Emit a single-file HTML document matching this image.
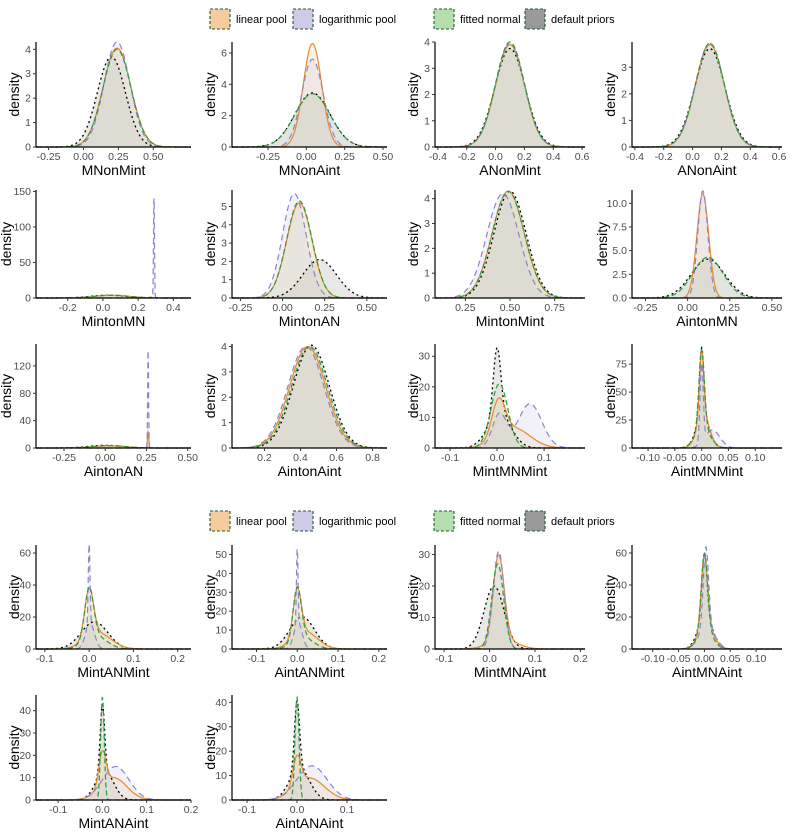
<!DOCTYPE html>
<html><head><meta charset="utf-8">
<style>
body{margin:0;background:#fff;}
svg{display:block;font-family:"Liberation Sans",sans-serif;}
.tick{font-size:10.5px;fill:#4d4d4d;}
.ttl{font-size:14px;fill:#000;}
.leg{font-size:11px;fill:#000;}
</style></head>
<body>
<svg id="c" width="794" height="836" viewBox="0 0 794 836" xmlns="http://www.w3.org/2000/svg"></svg>
<script>
// ---- data ----
const panelNames = ["MNonMint","MNonAint","ANonMint","ANonAint","MintonMN","MintonAN","MintonMint","AintonMN","AintonAN","AintonAint","MintMNMint","AintMNMint","MintANMint","AintANMint","MintMNAint","AintMNAint","MintANAint","AintANAint"];
const xLims = [[-0.34,0.77],[-0.485,0.526],[-0.42,0.62],[-0.42,0.62],[-0.38,0.5],[-0.3,0.62],[0.08,0.92],[-0.33,0.56],[-0.42,0.52],[0.02,0.88],[-0.132,0.187],[-0.13,0.15],[-0.12,0.23],[-0.16,0.22],[-0.12,0.21],[-0.14,0.15],[-0.15,0.2],[-0.13,0.18]];
const xTicks = [[-0.25,0,0.25,0.5],[-0.25,0,0.25,0.5],[-0.4,-0.2,0,0.2,0.4,0.6],[-0.4,-0.2,0,0.2,0.4,0.6],[-0.2,0,0.2,0.4],[-0.25,0,0.25,0.5],[0.25,0.5,0.75],[-0.25,0,0.25,0.5],[-0.25,0,0.25,0.5],[0.2,0.4,0.6,0.8],[-0.1,0,0.1],[-0.1,-0.05,0,0.05,0.1],[-0.1,0,0.1,0.2],[-0.1,0,0.1,0.2],[-0.1,0,0.1,0.2],[-0.1,-0.05,0,0.05,0.1],[-0.1,0,0.1,0.2],[-0.1,0,0.1]];
const xTickLabels = [["-0.25","0.00","0.25","0.50"],["-0.25","0.00","0.25","0.50"],["-0.4","-0.2","0.0","0.2","0.4","0.6"],["-0.4","-0.2","0.0","0.2","0.4","0.6"],["-0.2","0.0","0.2","0.4"],["-0.25","0.00","0.25","0.50"],["0.25","0.50","0.75"],["-0.25","0.00","0.25","0.50"],["-0.25","0.00","0.25","0.50"],["0.2","0.4","0.6","0.8"],["-0.1","0.0","0.1"],["-0.10","-0.05","0.00","0.05","0.10"],["-0.1","0.0","0.1","0.2"],["-0.1","0.0","0.1","0.2"],["-0.1","0.0","0.1","0.2"],["-0.10","-0.05","0.00","0.05","0.10"],["-0.1","0.0","0.1","0.2"],["-0.1","0.0","0.1"]];
const yMax = [4.3,6.7,4.0,3.95,152,5.9,4.35,11.4,152,4.1,34,93,65,55,33,65,47,43];
const yTicks = [[0,1,2,3,4],[0,2,4,6],[0,1,2,3,4],[0,1,2,3],[0,50,100,150],[0,1,2,3,4,5],[0,1,2,3,4],[0,2.5,5,7.5,10],[0,40,80,120],[0,1,2,3,4],[0,10,20,30],[0,25,50,75],[0,20,40,60],[0,10,20,30,40,50],[0,10,20,30],[0,20,40,60],[0,10,20,30,40],[0,10,20,30,40]];
const yTickLabels = [["0","1","2","3","4"],["0","2","4","6"],["0","1","2","3","4"],["0","1","2","3"],["0","50","100","150"],["0","1","2","3","4","5"],["0","1","2","3","4"],["0.0","2.5","5.0","7.5","10.0"],["0","40","80","120"],["0","1","2","3","4"],["0","10","20","30"],["0","25","50","75"],["0","20","40","60"],["0","10","20","30","40","50"],["0","10","20","30"],["0","20","40","60"],["0","10","20","30","40"],["0","10","20","30","40"]];
// series components: [mean, sd, peak]
const defaultPriors = [[[0.2,0.1,3.7]],[[0.04,0.115,3.45]],[[0.1,0.105,3.75]],[[0.12,0.105,3.7]],[[0.03,0.1,3.9]],[[0.22,0.1,2.1]],[[0.5,0.09,4.3]],[[0.12,0.1,4.1]],[[0.0,0.1,3.9]],[[0.46,0.1,4.05]],[[0.0,0.008,22],[0.005,0.025,11]],[[0.0,0.004,60],[0.002,0.012,30]],[[0.012,0.03,17]],[[0.012,0.03,17]],[[0.01,0.022,20]],[[0.0,0.005,40],[0.002,0.014,20]],[[0.0,0.005,30],[0.005,0.02,13]],[[0.0,0.005,28],[0.005,0.02,13]]];
const linearPool = [[[0.24,0.1,4.05]],[[0.04,0.06,6.6]],[[0.1,0.1,3.9]],[[0.12,0.1,3.85]],[[0.05,0.1,3.8],[0.27,0.003,1.5]],[[0.1,0.075,5.2]],[[0.49,0.09,4.3]],[[0.09,0.035,11]],[[0.02,0.1,3.2],[0.26,0.004,24]],[[0.44,0.1,4.0]],[[0.003,0.014,12],[0.035,0.035,6.5]],[[0.0,0.004,60],[0.003,0.012,28]],[[0.0,0.01,30],[0.02,0.03,10]],[[0.0,0.01,25],[0.02,0.03,9]],[[0.02,0.012,27],[0.03,0.03,3]],[[0.0,0.006,45],[0.003,0.015,14]],[[0.0,0.008,15],[0.025,0.03,10]],[[0.0,0.008,12],[0.025,0.03,9]]];
const logPool = [[[0.24,0.093,4.3]],[[0.04,0.07,5.6]],[[0.1,0.1,3.95]],[[0.12,0.1,3.9]],[[0.29,0.0027,150]],[[0.07,0.07,5.7]],[[0.46,0.09,4.2]],[[0.09,0.03,11.3]],[[0.26,0.0027,150]],[[0.43,0.1,4.0]],[[0.005,0.015,11],[0.07,0.025,14.5]],[[0.0,0.003,70],[0.02,0.014,16]],[[0.0,0.002,50],[0.002,0.01,16]],[[0.0,0.002,40],[0.002,0.01,14]],[[0.02,0.012,31]],[[0.003,0.005,50],[0.005,0.015,14]],[[0.03,0.03,15]],[[0.03,0.03,14]]];
const fittedNormal = [[[0.24,0.1,4.0]],[[0.04,0.115,3.4]],[[0.1,0.1,4.0]],[[0.12,0.1,3.9]],[[0.05,0.1,3.9]],[[0.1,0.075,5.3]],[[0.49,0.09,4.3]],[[0.12,0.09,4.3]],[[0.02,0.1,3.6]],[[0.45,0.1,4.0]],[[0.005,0.018,21]],[[0.0,0.005,70],[0.002,0.014,18]],[[0.0,0.01,32],[0.015,0.025,8]],[[0.0,0.01,28],[0.015,0.025,6]],[[0.018,0.013,27]],[[0.0,0.006,48],[0.002,0.014,12]],[[0.0,0.004,46]],[[0.0,0.004,42]]];
// ---- layout ----
const colX = [[36,191],[232,387],[435,585],[632,782]];
const rowY = [[42,147],[190,298],[344,448],[545,649],[695,800]];
const svg = document.getElementById('c');
const NS = "http://www.w3.org/2000/svg";
function mk(tag, attrs, parent){const e=document.createElementNS(NS,tag);for(const k in attrs)e.setAttribute(k,attrs[k]);(parent||svg).appendChild(e);return e;}
function dens(comps,x){let s=0;for(const c of comps){s+=c[2]*Math.exp(-0.5*((x-c[0])/c[1])**2);}return s;}
const styles = [
 {data:defaultPriors, name:'default-priors', fill:'#8a8a80', fo:0.2, stroke:'#000', dash:'2,3', w:1.3},
 {data:linearPool, name:'linear-pool', fill:'#f6d6a8', fo:0.3, stroke:'#e8892b', dash:'', w:1.2},
 {data:logPool, name:'logarithmic-pool', fill:'#cdc9e6', fo:0.25, stroke:'#8d84c8', dash:'6,4', w:1.2},
 {data:fittedNormal, name:'fitted-normal', fill:'#b9d8b0', fo:0.12, stroke:'#2d9a3c', dash:'5,3', w:1.2}
];
for(let p=0;p<panelNames.length;p++){
  const r=Math.floor(p/4), c=p%4;
  const [x0,x1]=colX[c], [y0,y1]=rowY[r];
  const g=mk('g',{});
  
  
  const xl=xLims[p];
  const sx=v=>x0+(v-xl[0])/(xl[1]-xl[0])*(x1-x0);
  const sy=v=>y1-v/yMax[p]*(y1-y0);
  const N=400;
  for(const pass of ['fill','line']){
    for(const st of styles){
      const comps=st.data[p];
      let d='';
      for(let i=0;i<=N;i++){
        const xv=xl[0]+(xl[1]-xl[0])*i/N;
        let yv=dens(comps,xv); if(yv>yMax[p]*1.02) yv=yMax[p]*1.02;
        d+=(i?'L':'M')+sx(xv).toFixed(2)+','+sy(yv).toFixed(2);
      }
      if(pass==='fill'){
        const f=mk('path',{d:d+'L'+x1+','+y1+'L'+x0+','+y1+'Z',fill:st.fill,'fill-opacity':st.fo,stroke:'none'},g);
        
        
      } else {
        const l=mk('path',{d:d,fill:'none',stroke:st.stroke,'stroke-width':st.w,'stroke-dasharray':st.dash},g);
        
        
      }
    }
  }
  const ax=mk('path',{d:`M${x0},${y0}V${y1}H${x1}`,fill:'none',stroke:'#000','stroke-width':1.2},g);
  
  
  xTicks[p].forEach((t,i)=>{
    mk('line',{x1:sx(t),x2:sx(t),y1:y1,y2:y1+3,stroke:'#333'},g);
    const tx=mk('text',{x:sx(t),y:y1+13,'text-anchor':'middle',class:'tick'},g);
    tx.textContent=xTickLabels[p][i];
    
    
  });
  yTicks[p].forEach((t,i)=>{
    mk('line',{x1:x0-3,x2:x0,y1:sy(t),y2:sy(t),stroke:'#333'},g);
    const tx=mk('text',{x:x0-5,y:sy(t)+3.5,'text-anchor':'end',class:'tick'},g);
    tx.textContent=yTickLabels[p][i];
    
    
  });
  const xt=mk('text',{x:(x0+x1)/2,y:y1+28,'text-anchor':'middle',class:'ttl'},g);
  xt.textContent=panelNames[p];
  
  
  const ymid=(y0+y1)/2, ytx=x0-(yTickLabels[p].some(s=>s.length>2)?25:17);
  const yt=mk('text',{x:ytx,y:ymid,'text-anchor':'middle',class:'ttl',transform:`rotate(-90 ${ytx} ${ymid})`},g);
  yt.textContent='density';
  
  
}
// legends
const legLabels=['linear pool','logarithmic pool','fitted normal','default priors'];
const legFill=['#f6cc9e','#cfcae9','#b5deae','#9a9a9a'];
const legBoxX=[210,293,434,525];
[18,520].forEach(ly=>{
  const g=mk('g',{});
  
  
  legLabels.forEach((lab,i)=>{
    const e=mk('g',{},g);
    
    
    mk('rect',{x:legBoxX[i],y:ly-9,width:20,height:20,fill:legFill[i],stroke:'#1f5a2a','stroke-dasharray':'3,2','stroke-width':1.1},e);
    const t=mk('text',{x:legBoxX[i]+26,y:ly+5,class:'leg'},e);
    t.textContent=lab;
  });
});
</script>
</body></html>
